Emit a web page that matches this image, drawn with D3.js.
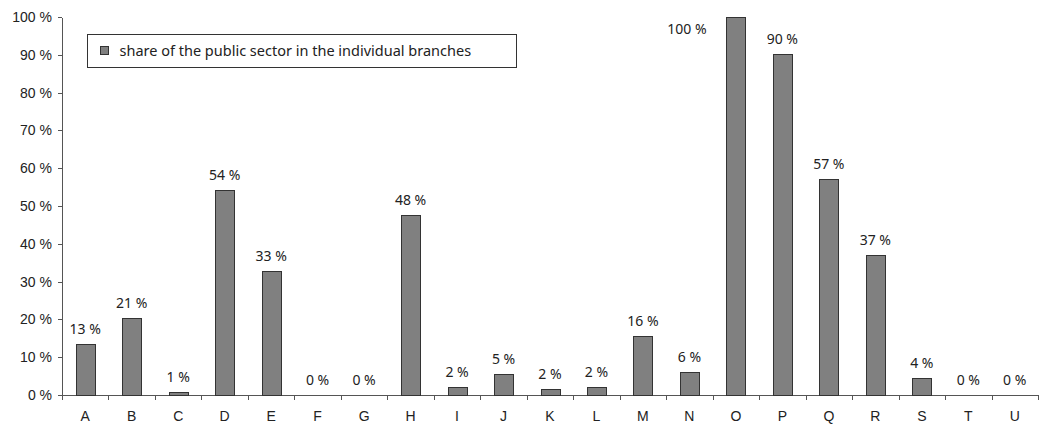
<!DOCTYPE html>
<html lang="en">
<head>
  <meta charset="utf-8">
  <script src="https://d3js.org/d3.v7.min.js"></script>
  <title>Share of the public sector</title>
  <style>
    body { margin: 0; background: #fff; }
    svg { display: block; font-family: "Noto Sans", sans-serif; }
    .axis path, .axis line { stroke: #555; shape-rendering: crispEdges; }
    .axis text { font-size: 14px; fill: #222; }
    .val { font-size: 14px; fill: #222; text-anchor: middle; }
    .bar { fill: #808080; stroke: #333; stroke-width: 1; shape-rendering: crispEdges; }
  </style>
</head>
<body>
<svg id="chart" width="1042" height="424"></svg>
<script>
// branches A..U
var categories = ["A","B","C","D","E","F","G","H","I","J","K","L","M","N","O","P","Q","R","S","T","U"];
var shares = [13.4, 20.5, 0.7, 54.2, 32.8, 0, 0, 47.6, 2.2, 5.5, 1.5, 2.2, 15.6, 6.1, 100, 90.1, 57.1, 37.0, 4.4, 0, 0];
var shareLabels = ["13 %","21 %","1 %","54 %","33 %","0 %","0 %","48 %","2 %","5 %","2 %","2 %","16 %","6 %","100 %","90 %","57 %","37 %","4 %","0 %","0 %"];
var yTicks = [0,10,20,30,40,50,60,70,80,90,100];
var legendText = "share of the public sector in the individual branches";

var svg = d3.select("#chart");
var margin = {top: 17, right: 2, bottom: 29, left: 62};
var width = 1042 - margin.left - margin.right;
var height = 424 - margin.top - margin.bottom;

var g = svg.append("g").attr("transform", "translate(" + margin.left + "," + margin.top + ")");

var x = d3.scaleBand().domain(categories).range([0, width - 2]).paddingInner(0);
var y = d3.scaleLinear().domain([0, 100]).range([height, 0]);
var barW = 19;

g.append("g")
  .attr("class", "axis")
  .call(d3.axisLeft(y).tickValues(yTicks).tickSize(4).tickSizeOuter(0).tickPadding(6)
        .tickFormat(function(d) { return d + " %"; }));

var xa = g.append("g")
  .attr("class", "axis")
  .attr("transform", "translate(0," + height + ")")
  .call(d3.axisBottom(x).tickSize(0).tickSizeOuter(0).tickPadding(16));

// tick marks sit on the band boundaries
xa.selectAll("line.sep")
  .data(categories.concat(["end"]))
  .enter().append("line")
  .attr("class", "sep")
  .attr("x1", function(d, i) { return Math.round(i * x.step()) + 0.5; })
  .attr("x2", function(d, i) { return Math.round(i * x.step()) + 0.5; })
  .attr("y1", 0).attr("y2", 5)
  .attr("stroke", "#555");

g.selectAll("rect.bar")
  .data(shares)
  .enter().append("rect")
  .attr("class", "bar")
  .attr("x", function(d, i) { return Math.round(x(categories[i]) + x.bandwidth() / 2 - barW / 2) + 0.5; })
  .attr("y", function(d) { return Math.round(y(d)) + 0.5; })
  .attr("width", barW)
  .attr("height", function(d) { return Math.max(0, Math.round(height - y(d))); })
  .style("display", function(d) { return d > 0 ? null : "none"; });

g.selectAll("text.val")
  .data(shares)
  .enter().append("text")
  .attr("class", "val")
  .attr("x", function(d, i) {
    var cx = x(categories[i]) + x.bandwidth() / 2;
    return d >= 100 ? cx - 49 : cx;
  })
  .attr("y", function(d) { return d >= 100 ? y(d) + 17 : y(d) - 10; })
  .text(function(d, i) { return shareLabels[i]; });

// legend
var lg = svg.append("g").attr("transform", "translate(87.5,34.5)");
lg.append("rect").attr("width", 429).attr("height", 33)
  .attr("fill", "#fff").attr("stroke", "#333");
lg.append("rect").attr("x", 13).attr("y", 12).attr("width", 8).attr("height", 8)
  .attr("class", "bar");
lg.append("text").attr("x", 32).attr("y", 21).attr("font-size", 14.5).attr("fill", "#222")
  .text(legendText);
</script>
</body>
</html>
